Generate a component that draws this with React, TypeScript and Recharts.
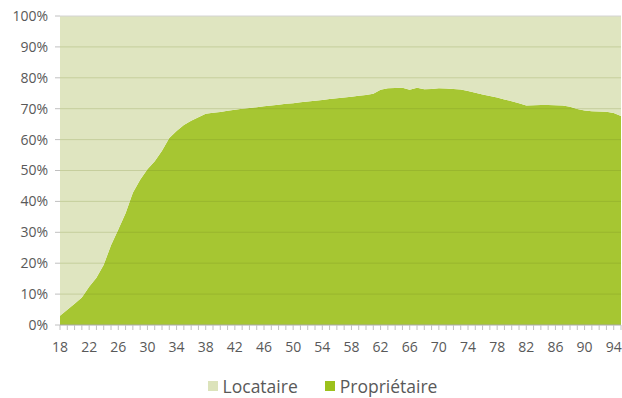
import React from 'react';
import { AreaChart, Area, XAxis, YAxis, ReferenceLine, Legend } from 'recharts';

// Âge du chef de ménage
const ages = [
  18, 19, 20, 21, 22, 23, 24, 25, 26, 27, 28, 29, 30, 31, 32, 33, 34, 35, 36, 37,
  38, 39, 40, 41, 42, 43, 44, 45, 46, 47, 48, 49, 50, 51, 52, 53, 54, 55, 56, 57,
  58, 59, 60, 61, 62, 63, 64, 65, 66, 67, 68, 69, 70, 71, 72, 73, 74, 75, 76, 77,
  78, 79, 80, 81, 82, 83, 84, 85, 86, 87, 88, 89, 90, 91, 92, 93, 94, 95,
];

// Part de propriétaires (%) par âge
const proprietaire = [
  3.0, 4.9, 6.9, 8.9, 12.4, 15.3, 19.5, 25.8, 30.9, 36.2, 42.8, 47.0, 50.4, 53.0, 56.4, 60.5, 62.8, 64.7, 66.1, 67.2,
  68.4, 68.7, 68.9, 69.3, 69.7, 70.0, 70.2, 70.5, 70.8, 71.0, 71.3, 71.6, 71.8, 72.1, 72.3, 72.6, 72.8, 73.1, 73.4, 73.6,
  73.9, 74.2, 74.4, 74.8, 76.1, 76.6, 76.7, 76.8, 76.1, 76.8, 76.3, 76.4, 76.6, 76.5, 76.4, 76.2, 75.7, 75.2, 74.6, 74.1,
  73.6, 73.0, 72.4, 71.8, 71.0, 71.1, 71.2, 71.2, 71.1, 71.0, 70.6, 69.9, 69.4, 69.2, 69.1, 69.0, 68.6, 67.6,
];

// Locataires : complément à 100 %
const locataire = proprietaire.map((p) => Math.round((100 - p) * 10) / 10);

const percentTicks = [0, 10, 20, 30, 40, 50, 60, 70, 80, 90, 100];

const series = [
  { key: 'Locataire', color: '#dfe5c0', swatch: '#dce3bb' },
  { key: 'Propriétaire', color: '#a6c632', swatch: '#9cc11c' },
];

const data = ages.map((age, i) => ({
  age,
  'Propriétaire': proprietaire[i],
  Locataire: locataire[i],
}));

const FONT = '"Open Sans", "DejaVu Sans", sans-serif';
const TEXT = '#595959';

const LegendContent = () => (
  <div
    style={{
      display: 'flex',
      justifyContent: 'center',
      alignItems: 'center',
      height: 24,
      paddingLeft: 24,
      fontFamily: FONT,
      fontSize: 17.5,
      color: TEXT,
    }}
  >
    {series.map((s, i) => (
      <div key={s.key} style={{ display: 'flex', alignItems: 'center', marginLeft: i ? 27 : 0 }}>
        <span style={{ width: 10, height: 10, background: s.swatch, marginRight: 5, display: 'inline-block' }} />
        <span>{s.key}</span>
      </div>
    ))}
  </div>
);

export default function App() {
  return (
    <div style={{ position: 'absolute', left: 0, top: 0, width: 622, height: 398, background: '#fff' }}>
      <AreaChart
        width={622}
        height={398}
        data={data}
        margin={{ top: 16, right: 1, bottom: 0, left: 0 }}
      >
        <XAxis
          dataKey="age"
          interval={0}
          tickFormatter={(v: number) => ((v - 18) % 4 === 0 ? String(v) : '')}
          tick={{ fontFamily: FONT, fontSize: 14, fill: TEXT }}
          tickLine={{ stroke: '#c0c0c0' }}
          axisLine={{ stroke: '#a8a8a8' }}
          tickSize={5}
          tickMargin={12}
          height={49}
        />
        <YAxis
          domain={[0, 100]}
          ticks={percentTicks}
          tickFormatter={(v: number) => `${v}%`}
          tick={{ fontFamily: FONT, fontSize: 14, fill: TEXT }}
          tickLine={{ stroke: '#c0c0c0' }}
          axisLine={false}
          tickSize={5}
          tickMargin={7}
          width={60}
        />
        <Area
          type="linear"
          dataKey="Propriétaire"
          stackId="menage"
          stroke="none"
          fill={series[1].color}
          fillOpacity={1}
          isAnimationActive={false}
        />
        <Area
          type="linear"
          dataKey="Locataire"
          stackId="menage"
          stroke="none"
          fill={series[0].color}
          fillOpacity={1}
          isAnimationActive={false}
        />
        {/* horizontal gridlines drawn over the filled areas */}
        {percentTicks.slice(1).map((t) => (
          <ReferenceLine
            key={t}
            y={t}
            stroke={t === 100 ? '#d4d4d4' : '#6f7f20'}
            strokeOpacity={t === 100 ? 1 : 0.22}
          />
        ))}
        <Legend verticalAlign="bottom" content={<LegendContent />} />
      </AreaChart>
    </div>
  );
}
